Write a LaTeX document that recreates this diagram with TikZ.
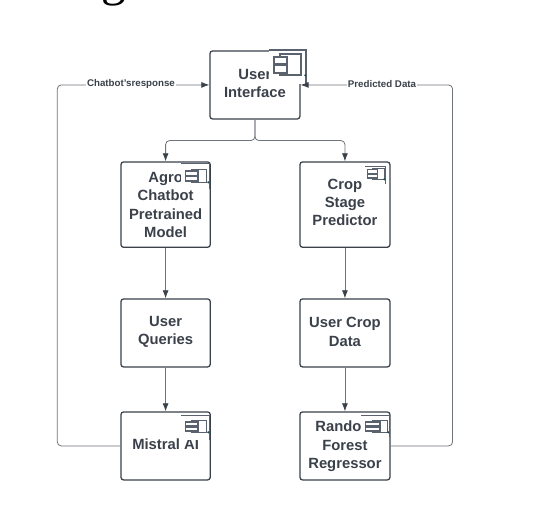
\documentclass[tikz,border=0pt]{standalone}
\usepackage{fontspec}
\setmainfont{Liberation Sans}
\newfontfamily\titlefont{Liberation Serif}
\usetikzlibrary{arrows.meta}
\definecolor{ink}{HTML}{3A414A}
\definecolor{wire}{HTML}{6F747B}
\definecolor{icon}{HTML}{59626D}
\definecolor{blob}{HTML}{1F4A50}
\tikzset{
  x=0.75pt,y=-0.75pt,
  compbox/.style={draw=ink,line width=0.95pt,rounded corners=2pt,fill=white,inner sep=0pt,anchor=north west},
  boxtext/.style={align=center,text=ink,inner sep=0pt,font=\fontsize{11.1}{13.7}\selectfont\bfseries},
  wirearrow/.style={draw=wire,line width=0.6pt,rounded corners=3pt,-{Latex[length=6pt,width=4.5pt,color=ink]}},
  flowlabel/.style={fill=white,inner sep=0.5pt,text=ink,font=\fontsize{7.3}{8}\selectfont\bfseries},
  iconline/.style={draw=icon,line width=0.95pt},
  bigicon/.style={iconline/.append style={line width=1.25pt}},
}
% #1 mask left, #2 top, #3 right, #4 mask bottom, #5 inner left, #6 inner top, #7 inner right, #8 inner bottom, #9 tab left
\newcommand{\compicon}[9]{%
  \fill[white] (#1,#2) rectangle (#3+1,#4);
  \draw[iconline] (#1,#2) -- (#3,#2) -- (#3,#4);
  \draw[iconline] (#5,#6) rectangle (#7,#8);
  \pgfmathsetmacro{\tabh}{(#8-#6)*0.34}
  \pgfmathsetmacro{\tabw}{(#5-#9)*2.1}
  \pgfmathsetmacro{\tabA}{#6+(#8-#6)*0.14}
  \pgfmathsetmacro{\tabB}{#6+(#8-#6)*0.55}
  \draw[iconline,fill=white] (#9,\tabA) rectangle (#9+\tabw,\tabA+\tabh);
  \draw[iconline,fill=white] (#9,\tabB) rectangle (#9+\tabw,\tabB+\tabh);
  \fill[blob] (#3-1,#8) circle (1.2);
}
\begin{document}
\begin{tikzpicture}
\clip (0,0) rectangle (541,522);
\useasboundingbox (0,0) rectangle (541,522);
\fill[white] (0,0) rectangle (541,522);

\node[anchor=base,inner sep=0pt,font=\titlefont\fontsize{37}{37}\selectfont] (title) at (113.5,-4.6) {g};

\begin{scope}[shift={(-0.7,-0.7)}]
\node[compbox,minimum width=67.5pt,minimum height=51pt,label={[boxtext,yshift=1.1pt]center:User\\Interface}] (ui) at (210,51) {};
\node[compbox,minimum width=67pt,minimum height=64pt,label={[boxtext,yshift=-0.3pt]center:Agro\\Chatbot\\Pretrained\\Model}] (agro) at (121,162) {};
\node[compbox,minimum width=67.5pt,minimum height=64pt,label={[boxtext,yshift=1.5pt]center:Crop\\Stage\\Predictor}] (crop) at (300,162) {};
\node[compbox,minimum width=67pt,minimum height=51pt,label={[boxtext,yshift=0.8pt]center:User\\Queries}] (queries) at (121,299) {};
\node[compbox,minimum width=67.5pt,minimum height=51pt,label={[boxtext,yshift=0.8pt]center:User Crop\\Data}] (data) at (300,299) {};
\node[compbox,minimum width=67pt,minimum height=51pt,label={[boxtext,yshift=1.1pt]center:Mistral AI}] (mistral) at (121,412) {};
\node[compbox,minimum width=67.5pt,minimum height=51pt,label={[boxtext,yshift=-0.3pt]center:Rando\hspace*{9.75pt}\\Forest\\Regressor}] (forest) at (300,412) {};

\begin{scope}[bigicon]
\compicon{270}{51}{307}{85}{281}{54.5}{302}{76}{275}
\end{scope}
\compicon{182}{164}{210}{190}{192}{170}{207}{183}{186}
\compicon{366}{167}{386}{185}{373}{169}{385}{180}{368}
\compicon{182}{416}{210}{441}{192}{421}{207}{433}{186}
\compicon{362}{416}{390}{438}{373}{421}{388}{433}{366}

\draw[wirearrow] (ui.south) -- ++(0,21) -| (agro.north);
\draw[wirearrow] (ui.south) -- ++(0,21) -| (crop.north);
\draw[wirearrow] (agro.south) -- (queries.north);
\draw[wirearrow] (queries.south) -- (mistral.north);
\draw[wirearrow] (crop.south) -- (data.north);
\draw[wirearrow] (data.south) -- (forest.north);
\draw[wirearrow] (mistral.west) -- ++(-63,0) |- (ui.west);
\draw[wirearrow] (forest.east) -- ++(62,0) |- (ui.east);

\node[flowlabel] (chatlabel) at (131.7,84.7) {Chatbot'sresponse};
\node[flowlabel] (predlabel) at (382.7,84.7) {Predicted Data};
\end{scope}
\end{tikzpicture}
\end{document}
